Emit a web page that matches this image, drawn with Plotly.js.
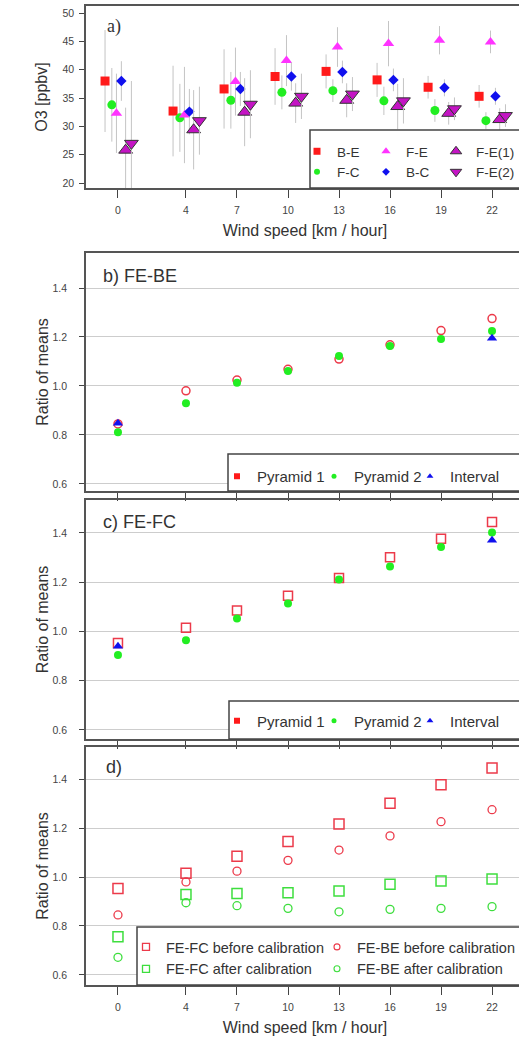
<!DOCTYPE html>
<html><head><meta charset="utf-8">
<script src="https://cdn.plot.ly/plotly-3.0.1.min.js"></script>
<style>html,body{margin:0;padding:0;overflow:hidden;background:#fff}</style>
</head><body><div id="chart" style="width:560px;height:1037px"></div>
<script>
// ---------- data ----------
const windSpeed = [0, 4, 7, 10, 13, 16, 19, 22];
const tickLabels = ['0', '4', '7', '10', '13', '16', '19', '22'];

// panel a) O3 [ppbv]
const be  = [38.0, 32.7, 36.6, 38.8, 39.7, 38.2, 36.9, 35.3];
const fc  = [33.8, 31.5, 34.6, 36.0, 36.3, 34.5, 32.8, 31.0];
const fe  = [32.3, 32.0, 37.9, 41.6, 44.0, 44.6, 45.2, 44.9];
const bc  = [38.0, 32.6, 36.6, 38.8, 39.6, 38.2, 36.8, 35.3];
const fe1 = [25.8, 29.4, 32.5, 34.1, 34.6, 33.5, 32.3, 31.2];
const fe2 = [27.0, 31.0, 33.9, 35.3, 35.7, 34.5, 33.1, 31.9];
const beErr  = [9.0, 8.0, 7.0, 5.0, 3.0, 3.0, 2.0, 2.0];
const fcErr  = [6.5, 6.0, 5.0, 3.0, 2.0, 2.5, 2.0, 1.5];
const feErr  = [7.0, 8.5, 6.0, 4.5, 3.5, 4.0, 2.5, 2.0];
const bcErr  = [3.5, 4.0, 3.0, 2.5, 2.0, 2.0, 1.5, 1.5];
const fe1Err = [7.5, 7.0, 6.0, 3.5, 3.0, 4.0, 2.0, 2.0];
const fe2Err = [11.0, 6.0, 6.0, 4.0, 3.0, 4.0, 2.0, 2.0];

// panels b), c), d) ratio of means
const febeBefore = [0.845, 0.980, 1.024, 1.068, 1.110, 1.168, 1.226, 1.275];
const fefcBefore = [0.953, 1.015, 1.085, 1.145, 1.217, 1.301, 1.377, 1.445];
const febeP2  = [0.811, 0.929, 1.013, 1.061, 1.122, 1.163, 1.192, 1.224];
const fefcP2  = [0.904, 0.964, 1.053, 1.113, 1.211, 1.264, 1.343, 1.402];
const febeInt = [0.848, null, null, null, null, null, null, 1.195];
const fefcInt = [0.940, null, null, null, null, null, null, 1.370];
const fefcAfter = [0.756, 0.929, 0.933, 0.936, 0.943, 0.970, 0.984, 0.992];
const febeAfter = [0.672, 0.895, 0.883, 0.872, 0.858, 0.868, 0.872, 0.879];

// ---------- styling ----------
const W = 560, H = 1037, ML = 86, MR = 36;
const PW = W - ML - MR;
const FONT = 'Liberation Sans, Arial, sans-serif';
const TXT = '#333';
const RED = '#ff1a1a', PRED = '#ec3a4a', GREEN = '#22ee22', LGREEN = '#3ede3e', BLUE = '#1010ee', MAG = '#ff33ff', PURP = '#c414c4';
const px2x = p => (p - ML) / PW;
const px2y = p => 1 - p / H;
const dom = (top, bot) => [px2y(bot), px2y(top)];
const shift = d => windSpeed.map(w => w + d);

const traces = [];
function aTrace(name, y, err, dx, marker) {
  traces.push({
    type: 'scatter', mode: 'markers', name, x: shift(dx), y,
    xaxis: 'x', yaxis: 'y', showlegend: false,
    marker, error_y: {type: 'data', array: err, visible: true, color: '#c4c4c4', thickness: 1, width: 0},
    hoverinfo: 'x+y'
  });
}
aTrace('B-E', be, beErr, -0.76, {symbol: 'square', size: 9, color: RED});
aTrace('F-C', fc, fcErr, -0.36, {symbol: 'circle', size: 9, color: GREEN});
aTrace('F-E', fe, feErr, -0.09, {symbol: 'triangle-up', size: 10, color: MAG});
aTrace('B-C', bc, bcErr, 0.20, {symbol: 'diamond', size: 8, color: BLUE});
aTrace('F-E(1)', fe1, fe1Err, 0.45, {symbol: 'triangle-up', size: 12, color: PURP, line: {color: '#333', width: 1}});
aTrace('F-E(2)', fe2, fe2Err, 0.79, {symbol: 'triangle-down', size: 12, color: PURP, line: {color: '#333', width: 1}});

function pt(name, y, xa, ya, marker) {
  traces.push({type: 'scatter', mode: 'markers', name, x: windSpeed, y, xaxis: xa, yaxis: ya, marker, showlegend: false, hoverinfo: 'x+y'});
}
function leg(name, legend, xa, ya, marker) {
  traces.push({type: 'scatter', mode: 'markers', name, x: [null], y: [null], xaxis: xa, yaxis: ya, legend, marker, hoverinfo: 'skip'});
}
// a legend entries
leg('B-E', 'legend', 'x', 'y', {symbol: 'square', size: 7, color: RED});
leg('F-C', 'legend', 'x', 'y', {symbol: 'circle', size: 6, color: GREEN});
leg('F-E', 'legend5', 'x', 'y', {symbol: 'triangle-up', size: 8, color: MAG});
leg('B-C', 'legend5', 'x', 'y', {symbol: 'diamond', size: 6, color: BLUE});
leg('F-E(1)', 'legend6', 'x', 'y', {symbol: 'triangle-up', size: 10, color: PURP, line: {color: '#333', width: 1}});
leg('F-E(2)', 'legend6', 'x', 'y', {symbol: 'triangle-down', size: 10, color: PURP, line: {color: '#333', width: 1}});
// b
pt('Pyramid 1', febeBefore, 'x2', 'y2', {symbol: 'circle-open', size: 8, color: PRED, line: {width: 1.5}});
pt('Pyramid 2', febeP2, 'x2', 'y2', {symbol: 'circle', size: 8, color: GREEN});
pt('Interval', febeInt, 'x2', 'y2', {symbol: 'triangle-up', size: 9, color: BLUE});
leg('Pyramid 1', 'legend2', 'x2', 'y2', {symbol: 'square', size: 6, color: RED});
leg('Pyramid 2', 'legend7', 'x2', 'y2', {symbol: 'circle', size: 5, color: GREEN});
leg('Interval', 'legend8', 'x2', 'y2', {symbol: 'triangle-up', size: 6, color: BLUE});
// c
pt('Pyramid 1', fefcBefore, 'x3', 'y3', {symbol: 'square-open', size: 9, color: PRED, line: {width: 1.5}});
pt('Pyramid 2', fefcP2, 'x3', 'y3', {symbol: 'circle', size: 8, color: GREEN});
pt('Interval', fefcInt, 'x3', 'y3', {symbol: 'triangle-up', size: 9, color: BLUE});
leg('Pyramid 1', 'legend3', 'x3', 'y3', {symbol: 'square', size: 6, color: RED});
leg('Pyramid 2', 'legend9', 'x3', 'y3', {symbol: 'circle', size: 5, color: GREEN});
leg('Interval', 'legend10', 'x3', 'y3', {symbol: 'triangle-up', size: 6, color: BLUE});
// d
pt('FE-FC before calibration', fefcBefore, 'x4', 'y4', {symbol: 'square-open', size: 10, color: PRED, line: {width: 1.5}});
pt('FE-BE before calibration', febeBefore, 'x4', 'y4', {symbol: 'circle-open', size: 8, color: PRED, line: {width: 1.3}});
pt('FE-FC after calibration', fefcAfter, 'x4', 'y4', {symbol: 'square-open', size: 10, color: LGREEN, line: {width: 1.5}});
pt('FE-BE after calibration', febeAfter, 'x4', 'y4', {symbol: 'circle-open', size: 8, color: LGREEN, line: {width: 1.3}});
leg('FE-FC before calibration', 'legend4', 'x4', 'y4', {symbol: 'square-open', size: 7, color: PRED, line: {width: 1.3}});
leg('FE-FC after calibration', 'legend4', 'x4', 'y4', {symbol: 'square-open', size: 7, color: LGREEN, line: {width: 1.3}});
leg('FE-BE before calibration', 'legend11', 'x4', 'y4', {symbol: 'circle-open', size: 6, color: PRED, line: {width: 1.1}});
leg('FE-BE after calibration', 'legend11', 'x4', 'y4', {symbol: 'circle-open', size: 6, color: LGREEN, line: {width: 1.1}});

const XR = [-1.88, 23.88];
function xax(anchor, labels, title) {
  const o = {
    anchor, domain: [0, 1], range: XR, tickvals: windSpeed, ticktext: tickLabels,
    showticklabels: labels, ticks: 'outside', ticklen: 8, tickwidth: 1, tickcolor: '#444',
    tickfont: {family: FONT, size: 10.5, color: '#444'}, ticklabelstandoff: 4,
    showgrid: false, zeroline: false, showline: true, mirror: true, linecolor: '#555', linewidth: 1.5,
    automargin: false, fixedrange: true
  };
  if (title) o.title = {text: 'Wind speed [km / hour]', font: {family: FONT, size: 16, color: TXT}, standoff: 9};
  return o;
}
function yax(anchor, domain, range, tickvals, fmt, title, grid) {
  return {
    anchor, domain, range, tickvals, tickformat: fmt,
    ticks: 'outside', ticklen: 5, tickwidth: 1, tickcolor: '#444',
    tickfont: {family: FONT, size: 10.5, color: '#444'}, ticklabelstandoff: grid ? 10 : 3,
    showgrid: !!grid, gridcolor: '#cdcdcd', gridwidth: 1,
    zeroline: false, showline: true, mirror: true, linecolor: '#555', linewidth: 1.5,
    title: {text: title, font: {family: FONT, size: 16, color: TXT}, standoff: grid ? 0 : 11},
    automargin: false, fixedrange: true
  };
}
const ratioTicks = [0.6, 0.8, 1.0, 1.2, 1.4];
const domA = dom(6, 188), domB = dom(253, 491), domC = dom(500, 739), domD = dom(747, 985);

function lg(textStart, top, size) {
  return {
    bgcolor: 'rgba(0,0,0,0)', borderwidth: 0, orientation: 'v', xanchor: 'left', yanchor: 'top',
    x: px2x(textStart - 40), y: px2y(top),
    font: {family: FONT, size, color: TXT}, traceorder: 'normal',
    itemsizing: 'trace', itemclick: false, itemdoubleclick: false
  };
}
const box = (x0, y0, y1) => ({type: 'rect', xref: 'paper', yref: 'paper', x0: px2x(x0), x1: 1.1, y0: px2y(y1), y1: px2y(y0),
  fillcolor: '#fff', line: {color: '#444', width: 1.5}, layer: 'above'});
const lab = (text, x, y, family) => ({text, xref: 'paper', yref: 'paper', x: px2x(x), y: px2y(y), xanchor: 'left', yanchor: 'middle',
  showarrow: false, font: {family: family || FONT, size: 18, color: TXT}});

const layout = {
  width: W, height: H, margin: {l: ML, r: MR, t: 0, b: 0},
  paper_bgcolor: '#fff', plot_bgcolor: '#fff', showlegend: true,
  xaxis: xax('y', true, true),
  xaxis2: xax('y2', false, false),
  xaxis3: xax('y3', false, false),
  xaxis4: xax('y4', true, true),
  yaxis: yax('x', domA, [19.12, 51.24], [20, 25, 30, 35, 40, 45, 50], 'd', 'O3 [ppbv]', false),
  yaxis5: {overlaying: 'y', anchor: 'x', range: [19.12, 51.24], tickvals: [20, 30, 40, 50], showticklabels: false, ticks: '',
    showgrid: true, gridcolor: '#cdcdcd', gridwidth: 1, zeroline: false, showline: false, fixedrange: true},
  yaxis2: yax('x2', domB, [0.571, 1.543], ratioTicks, '.1f', 'Ratio of means', true),
  yaxis3: yax('x3', domC, [0.563, 1.534], ratioTicks, '.1f', 'Ratio of means', true),
  yaxis4: yax('x4', domD, [0.559, 1.531], ratioTicks, '.1f', 'Ratio of means', true),
  legend: lg(337, 136, 13.5),
  legend5: lg(406, 136, 13.5),
  legend6: lg(476, 136, 13.5),
  legend2: lg(257, 460, 15),
  legend7: lg(354, 460, 15),
  legend8: lg(450, 460, 15),
  legend3: lg(257, 704.5, 15),
  legend9: lg(354, 704.5, 15),
  legend10: lg(450, 704.5, 15),
  legend4: lg(166, 931, 14.5),
  legend11: lg(357, 931, 14.5),
  shapes: [box(310, 130, 188), box(228, 454, 491), box(229, 701, 739), box(137, 927, 985)],
  annotations: [
    lab('a)', 105, 27, 'Liberation Serif, Times New Roman, serif'),
    lab('b) FE-BE', 101, 276),
    lab('c) FE-FC', 101, 522),
    lab('d)', 104, 767)
  ]
};
Plotly.newPlot('chart', traces, layout, {displayModeBar: false});
</script></body></html>
